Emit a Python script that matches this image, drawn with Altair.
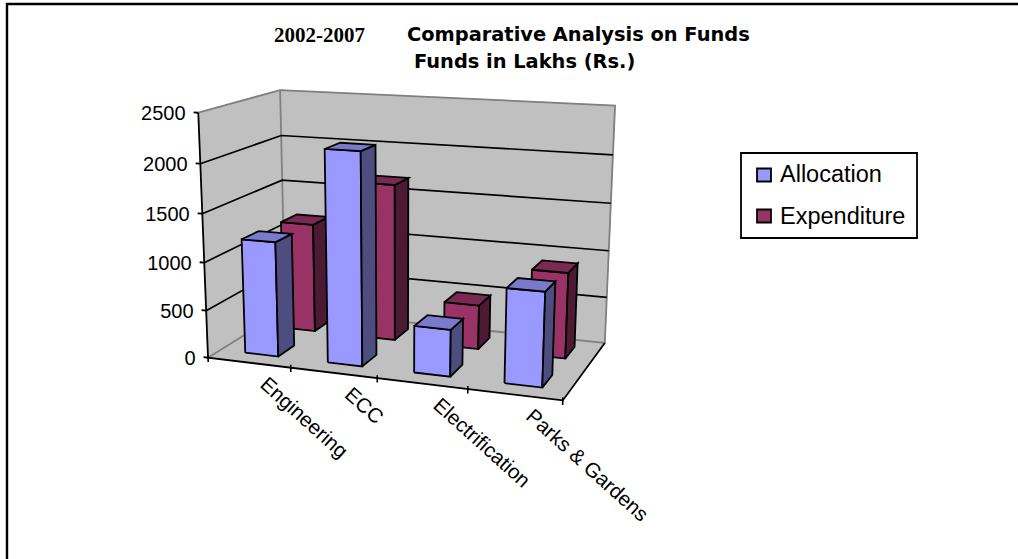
import altair as alt
import numpy as np
import pandas as pd

# Chart values
categories = ["Engineering", "ECC", "Electrification", "Parks & Gardens"]
allocation = [1200, 2170, 480, 950]
expenditure = [1180, 1670, 470, 900]
y_ticks = [0, 500, 1000, 1500, 2000, 2500]
Y_MAX = 2500

ALLOC = {"front": "#9999FF", "side": "#4D4D80", "top": "#7A7ACC"}
EXPEN = {"front": "#993366", "side": "#4D1A33", "top": "#7A2952"}

# Camera calibration for the 3D box: (across, depth, height) -> pixel position.
calibration = [
    ((0, 0, 0), (208, 357)),
    ((0, 0, 1), (198, 113)),
    ((0, 1, 0), (285, 310)),
    ((0, 1, 1), (280, 90.5)),
    ((1, 1, 0), (606, 343)),
    ((1, 1, 1), (617, 106.5)),
    ((1, 0, 0), (562, 401)),
    ((0.25, 0, 0), (291.7, 368)),
    ((0.5, 0, 0), (377.7, 378.7)),
    ((0.75, 0, 0), (467.7, 389.3)),
    ((1, 1, 0.5), (607, 225)),
    ((0, 0, 0.5), (203, 237)),
]


def solve_camera(points):
    rows = []
    for (a, b, c), (px, py) in points:
        rows.append([a, b, c, 1, 0, 0, 0, 0, -px * a, -px * b, -px * c, -px])
        rows.append([0, 0, 0, 0, a, b, c, 1, -py * a, -py * b, -py * c, -py])
    return np.linalg.svd(np.array(rows, dtype=float))[2][-1].reshape(3, 4)


CAMERA = solve_camera(calibration)


def project(a, b, c):
    X, Y, W = CAMERA @ np.array([a, b, c, 1.0])
    return float(X / W), float(Y / W)


polygons, lines = [], []


def add_polygon(corners, fill, stroke, width):
    pid = len(polygons)
    pts = [project(*c) for c in corners]
    polygons.append(
        pd.DataFrame(
            {
                "px": [p[0] for p in pts + pts[:1]],
                "py": [p[1] for p in pts + pts[:1]],
                "step": range(len(pts) + 1),
                "pid": pid,
                "fill": fill,
                "edge": stroke,
                "width": width,
            }
        )
    )


def add_line(path, colour, width):
    lid = len(lines)
    pts = [project(*c) for c in path]
    lines.append(
        pd.DataFrame(
            {
                "px": [p[0] for p in pts],
                "py": [p[1] for p in pts],
                "step": range(len(pts)),
                "lid": lid,
                "colour": colour,
                "width": width,
            }
        )
    )


def add_bar(slot, d0, d1, value, palette):
    a0 = (slot + 0.305) / len(categories)
    a1 = (slot + 0.71) / len(categories)
    h = value / Y_MAX
    add_polygon([(a0, d0, 0), (a1, d0, 0), (a1, d0, h), (a0, d0, h)], palette["front"], "black", 1.8)
    add_polygon([(a1, d0, 0), (a1, d1, 0), (a1, d1, h), (a1, d0, h)], palette["side"], "black", 1.8)
    add_polygon([(a0, d0, h), (a1, d0, h), (a1, d1, h), (a0, d1, h)], palette["top"], "black", 1.8)


WALL = "#C0C0C0"
EDGE = "#808080"
add_polygon([(0, 0, 0), (0, 1, 0), (0, 1, 1), (0, 0, 1)], WALL, WALL, 1)
add_polygon([(0, 1, 0), (1, 1, 0), (1, 1, 1), (0, 1, 1)], WALL, WALL, 1)
add_polygon([(0, 0, 0), (1, 0, 0), (1, 1, 0), (0, 1, 0)], WALL, WALL, 1)
wall_polys = len(polygons)

# Wall edges and gridlines are drawn before any bar
for path in (
    [(0, 0, 1), (0, 1, 1), (1, 1, 1), (1, 1, 0), (0, 1, 0), (0, 0, 0)],
    [(0, 1, 0), (0, 1, 1)],
):
    add_line(path, EDGE, 1.8)
for t in y_ticks[1:-1]:
    h = t / Y_MAX
    add_line([(0, 0, h), (0, 1, h), (1, 1, h)], "black", 1.7)

# Axis lines and ticks
add_line([(0, 0, 1), (0, 0, 0), (1, 0, 0), (1, 1, 0)], "black", 1.8)
for t in y_ticks:
    h = t / Y_MAX
    add_line([(-0.014, 0, h), (0, 0, h)], "black", 1.8)
for i in range(len(categories) + 1):
    add_line([(i / len(categories), 0, 0.012), (i / len(categories), 0, -0.018)], "black", 1.6)

for i, v in enumerate(expenditure):
    add_bar(i, 0.65, 0.87, v, EXPEN)
for i, v in enumerate(allocation):
    add_bar(i, 0.15, 0.36, v, ALLOC)

poly_df = pd.concat(polygons)
line_df = pd.concat(lines)

# Pixel-identity scales: the projected coordinates above go through these
X = alt.X("px:Q", scale=alt.Scale(domain=[0, 1018], range=[0, 1018]), axis=None)
Y = alt.Y("py:Q", scale=alt.Scale(domain=[0, 559], range=[0, 559]), axis=None)


def polygon_layer(df):
    return (
        alt.Chart(df)
        .mark_line(strokeJoin="miter", clip=False, interpolate="linear")
        .encode(
            x=X,
            y=Y,
            order="step:Q",
            detail="pid:N",
            stroke=alt.Stroke("edge:N", scale=None),
            fill=alt.Fill("fill:N", scale=None),
            strokeWidth=alt.StrokeWidth("width:Q", scale=None),
        )
    )


walls = polygon_layer(poly_df[poly_df.pid < wall_polys])
bars_back = polygon_layer(poly_df[(poly_df.pid >= wall_polys) & (poly_df.pid < wall_polys + 12)])
bars_front = polygon_layer(poly_df[poly_df.pid >= wall_polys + 12])

line_layer = (
    alt.Chart(line_df)
    .mark_line(strokeJoin="miter", interpolate="linear")
    .encode(
        x=X,
        y=Y,
        order="step:Q",
        detail="lid:N",
        stroke=alt.Stroke("colour:N", scale=None),
        strokeWidth=alt.StrokeWidth("width:Q", scale=None),
    )
)

# Value labels down the left axis
y_label_df = pd.DataFrame(
    [
        {"label": str(t), "px": project(-0.014, 0, t / Y_MAX)[0] - 8, "py": project(-0.014, 0, t / Y_MAX)[1] + 2}
        for t in y_ticks
    ]
)
y_labels = (
    alt.Chart(y_label_df)
    .mark_text(font="Liberation Sans", fontSize=20, align="right", baseline="middle", color="black")
    .encode(x=X, y=Y, text="label:N")
)

# Slanted category names under the floor
cat_label_df = pd.DataFrame(
    [
        {
            "label": c,
            "px": project((i + 0.5) / len(categories), 0, 0)[0] + 14,
            "py": project((i + 0.5) / len(categories), 0, 0)[1] + 19,
        }
        for i, c in enumerate(categories)
    ]
)
cat_labels = (
    alt.Chart(cat_label_df)
    .mark_text(font="Liberation Sans", fontSize=20.5, align="left", baseline="middle", angle=42, color="black")
    .encode(x=X, y=Y, text="label:N")
)

# Headings
title_df = pd.DataFrame(
    {"label": ["Comparative Analysis on Funds", "Funds in Lakhs (Rs.)"], "px": [407.0, 414.0], "py": [41.0, 68.0]}
)
titles = (
    alt.Chart(title_df)
    .mark_text(font="DejaVu Sans", fontWeight="bold", fontSize=19.4, align="left", baseline="alphabetic", color="black")
    .encode(x=X, y=Y, text="label:N")
)
period_df = pd.DataFrame({"label": ["2002-2007"], "px": [274.0], "py": [42.0]})
period = (
    alt.Chart(period_df)
    .mark_text(font="Liberation Serif", fontWeight="bold", fontSize=21, align="left", baseline="alphabetic", color="black")
    .encode(x=X, y=Y, text="label:N")
)

# Outer frame: top and left rules only
frame_df = pd.DataFrame(
    [
        {"px": 7.0, "py": 559.0, "step": 0},
        {"px": 7.0, "py": 4.0, "step": 1},
        {"px": 1018.0, "py": 4.0, "step": 2},
    ]
)
frame = alt.Chart(frame_df).mark_line(color="black", strokeWidth=2.4, strokeJoin="miter").encode(x=X, y=Y, order="step:Q")

# Legend panel
box_df = pd.DataFrame({"px": [741.0], "py": [153.0], "px2": [917.0], "py2": [238.0]})
legend_box = (
    alt.Chart(box_df)
    .mark_rect(fill="white", stroke="black", strokeWidth=1.8)
    .encode(x=X, y=Y, x2="px2:Q", y2="py2:Q")
)
swatch_df = pd.DataFrame(
    {
        "px": [757.0, 757.0],
        "py": [168.5, 209.5],
        "px2": [771.0, 771.0],
        "py2": [181.5, 222.5],
        "fill": [ALLOC["front"], EXPEN["front"]],
    }
)
swatches = (
    alt.Chart(swatch_df)
    .mark_rect(stroke="black", strokeWidth=1.8)
    .encode(x=X, y=Y, x2="px2:Q", y2="py2:Q", fill=alt.Fill("fill:N", scale=None))
)
legend_text_df = pd.DataFrame({"label": ["Allocation", "Expenditure"], "px": [780.0, 780.0], "py": [175.0, 217.0]})
legend_text = (
    alt.Chart(legend_text_df)
    .mark_text(font="Liberation Sans", fontSize=23.5, align="left", baseline="middle", color="black")
    .encode(x=X, y=Y, text="label:N")
)

chart = (
    alt.layer(
        frame, walls, line_layer, bars_back, bars_front,
        y_labels, cat_labels, period, titles, legend_box, swatches, legend_text,
    )
    .properties(width=1018, height=559, padding=0, background="white", autosize=alt.AutoSizeParams(type="none"))
    .configure_view(stroke=None)
)

chart.save("out.html", embed_options={"renderer": "svg", "actions": False})
